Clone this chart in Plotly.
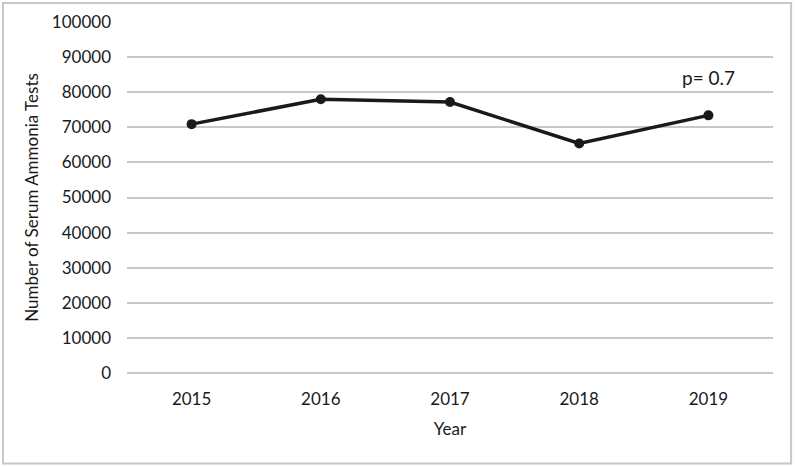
import plotly.graph_objects as go

# data
years = ["2015", "2016", "2017", "2018", "2019"]
tests = [70900, 78000, 77200, 65400, 73400]
y_ticks = list(range(0, 100001, 10000))
p_label = "p= 0.7"
p_pos = ("2019", 84300)

font_family = "Lato, 'Open Sans', sans-serif"

fig = go.Figure()

fig.add_trace(go.Scatter(
    x=years,
    y=tests,
    mode="lines+markers",
    line=dict(color="#1a1a1a", width=3.5),
    marker=dict(color="#1a1a1a", size=10),
    showlegend=False,
))

fig.add_annotation(
    xref="x", yref="y",
    x=years.index(p_pos[0]), y=p_pos[1], text=p_label, showarrow=False,
    font=dict(size=19, color="#1a1a1a", family=font_family),
    xanchor="center", yanchor="middle",
)

# outer frame around the whole chart
fig.add_shape(
    type="rect", xref="paper", yref="paper",
    x0=-0.192, x1=1.028, y0=-0.2575, y1=1.054,
    line=dict(color="#c8c8c8", width=2), fillcolor="rgba(0,0,0,0)",
    layer="below",
)

fig.update_layout(
    width=796,
    height=467,
    margin=dict(l=127, r=23, t=22, b=94),
    paper_bgcolor="white",
    plot_bgcolor="white",
    font=dict(family=font_family, color="#1a1a1a", size=17),
    xaxis=dict(
        type="category",
        range=[-0.5, 4.5],
        showgrid=False,
        showline=False,
        zeroline=False,
        ticks="",
        ticklabelstandoff=14,
        tickfont=dict(size=17),
        title=dict(text="Year", font=dict(size=17), standoff=15),
    ),
    yaxis=dict(
        range=[0, 100000],
        tickvals=y_ticks,
        ticktext=[str(v) for v in y_ticks],
        showgrid=True,
        gridcolor="#c8c8c8",
        gridwidth=1.5,
        zeroline=True,
        zerolinecolor="#c8c8c8",
        zerolinewidth=1.5,
        showline=False,
        ticks="",
        ticklabelstandoff=15,
        tickfont=dict(size=17),
        title=dict(text="Number of Serum Ammonia Tests", font=dict(size=17), standoff=8),
    ),
)

fig.write_html(
    "out.html",
    config={"displayModeBar": False},
    post_script="document.body.style.margin='0';",
)
